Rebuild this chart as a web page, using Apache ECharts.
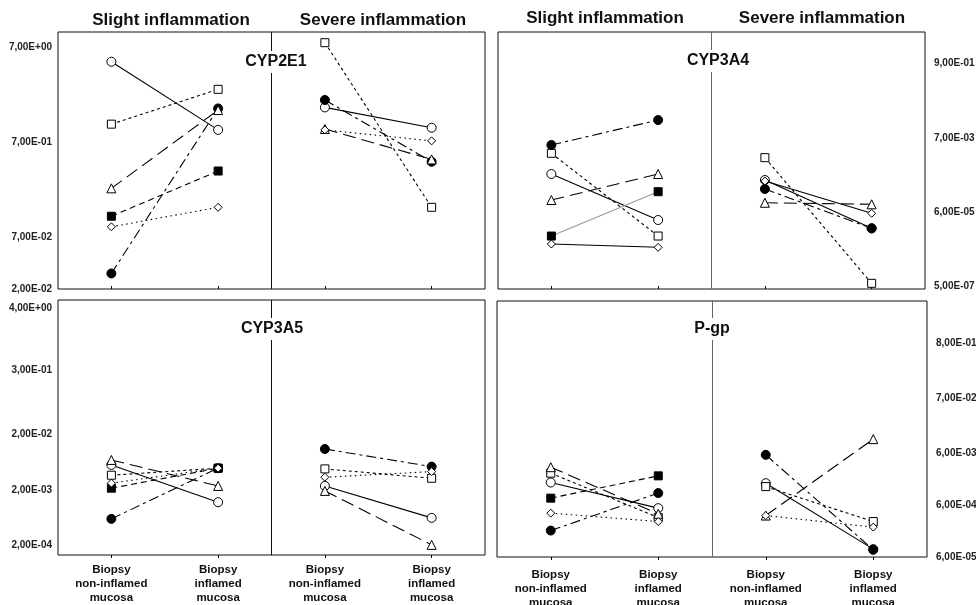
<!DOCTYPE html>
<html>
<head>
<meta charset="utf-8">
<script src="https://cdn.jsdelivr.net/npm/echarts@6/dist/echarts.min.js"></script>
<style>
html,body{margin:0;padding:0;background:#fff;}
#chart{width:976px;height:605px;}
</style>
</head>
<body>
<div id="chart"></div>
<script>
// ---------- categories ----------
const categories = ['Biopsy\nnon-inflamed\nmucosa', 'Biopsy\ninflamed\nmucosa', 'Biopsy\nnon-inflamed\nmucosa', 'Biopsy\ninflamed\nmucosa'];
const groupTitles = ['Slight inflammation', 'Severe inflammation'];
const panelNames = ['CYP2E1', 'CYP3A4', 'CYP3A5', 'P-gp'];

// ---------- tick values and labels ----------
const cyp2e1Ticks = [7, 0.7, 0.07, 0.02];
const cyp2e1TickLabels = ['7,00E+00', '7,00E-01', '7,00E-02', '2,00E-02'];
const cyp3a4Ticks = [0.9, 0.007, 6e-5, 5e-7];
const cyp3a4TickLabels = ['9,00E-01', '7,00E-03', '6,00E-05', '5,00E-07'];
const cyp3a5Ticks = [4, 0.3, 0.02, 0.002, 0.0002];
const cyp3a5TickLabels = ['4,00E+00', '3,00E-01', '2,00E-02', '2,00E-03', '2,00E-04'];
const pgpTicks = [0.8, 0.07, 0.006, 0.0006, 0.00006];
const pgpTickLabels = ['8,00E-01', '7,00E-02', '6,00E-03', '6,00E-04', '6,00E-05'];

// ---------- values: [slight non-inflamed, slight inflamed, severe non-inflamed, severe inflamed] ----------
// CYP2E1
const cyp2e1OpenCircle   = [4.9, 0.94, 1.62, 0.99];
const cyp2e1OpenSquare   = [1.08, 2.51, 7.77, 0.144];
const cyp2e1FilledCircle = [0.029, 1.58, 1.94, 0.434];
const cyp2e1OpenTriangle = [0.228, 1.52, 0.96, 0.46];
const cyp2e1FilledSquare = [0.116, 0.347, null, null];
const cyp2e1OpenDiamond  = [0.0898, 0.144, 0.94, 0.72];
// CYP3A4
const cyp3a4FilledCircle = [4.51e-3, 2.26e-2, 2.63e-4, 2.07e-5];
const cyp3a4OpenSquare   = [2.64e-3, 1.26e-5, 1.99e-3, 5.94e-7];
const cyp3a4OpenCircle   = [6.92e-4, 3.55e-5, 4.70e-4, 2.07e-5];
const cyp3a4OpenTriangle = [1.29e-4, 6.92e-4, 1.08e-4, 9.78e-5];
const cyp3a4FilledSquare = [1.26e-5, 2.21e-4, null, null];
const cyp3a4OpenDiamond  = [7.53e-6, 6.08e-6, 4.41e-4, 5.47e-5];
// CYP3A5
const cyp3a5OpenTriangle = [6.97e-3, 2.35e-3, 1.91e-3, 2.0e-4];
const cyp3a5OpenCircle   = [5.66e-3, 1.19e-3, 2.35e-3, 6.18e-4];
const cyp3a5OpenSquare   = [3.68e-3, 4.93e-3, 4.79e-3, 3.24e-3];
const cyp3a5FilledSquare = [2.14e-3, 4.93e-3, null, null];
const cyp3a5OpenDiamond  = [2.64e-3, 4.93e-3, 3.38e-3, 4.28e-3];
const cyp3a5FilledCircle = [5.93e-4, 4.93e-3, 1.10e-2, 5.27e-3];
// P-gp
const pgpOpenTriangle = [3.22e-3, 4.06e-4, 3.76e-4, 1.12e-2];
const pgpOpenSquare   = [2.47e-3, 3.44e-4, 1.36e-3, 2.88e-4];
const pgpOpenCircle   = [1.63e-3, 5.22e-4, 1.58e-3, 8.47e-5];
const pgpFilledSquare = [8.14e-4, 2.19e-3, null, null];
const pgpOpenDiamond  = [4.19e-4, 2.88e-4, 3.76e-4, 2.25e-4];
const pgpFilledCircle = [1.93e-4, 1.02e-3, 5.56e-3, 8.22e-5];

// ---------- styles ----------
const FONT = 'Liberation Sans, Arial, sans-serif';
const markerStyle = {
  openCircle:   {symbol: 'circle',   size: 9, fill: '#fff', dash: 'solid'},
  openSquare:   {symbol: 'rect',     size: 8, fill: '#fff', dash: [3, 3]},
  filledCircle: {symbol: 'circle',   size: 9, fill: '#000', dash: [10, 4, 3, 4]},
  openTriangle: {symbol: 'triangle', size: 9, fill: '#fff', dash: [13, 6]},
  filledSquare: {symbol: 'rect',     size: 8, fill: '#000', dash: [6, 4]},
  openDiamond:  {symbol: 'diamond',  size: 8, fill: '#fff', dash: [1.5, 3.5]}
};

const panels = [
  {name: 'CYP2E1', ticks: cyp2e1Ticks, labels: cyp2e1TickLabels, min: 0.0199, max: 10.07, side: 'left', divider: '#111',
   grid: {left: 58, top: 32, width: 427, height: 257}, bottom: false,
   series: {openCircle: cyp2e1OpenCircle, openSquare: cyp2e1OpenSquare, filledCircle: cyp2e1FilledCircle,
            openTriangle: cyp2e1OpenTriangle, filledSquare: cyp2e1FilledSquare, openDiamond: cyp2e1OpenDiamond},
   override: {}},
  {name: 'CYP3A4', ticks: cyp3a4Ticks, labels: cyp3a4TickLabels, min: 4.12e-7, max: 6.66, side: 'right', divider: '#666',
   grid: {left: 498, top: 32, width: 427, height: 257}, bottom: false,
   series: {openCircle: cyp3a4OpenCircle, openSquare: cyp3a4OpenSquare, filledCircle: cyp3a4FilledCircle,
            openTriangle: cyp3a4OpenTriangle, filledSquare: cyp3a4FilledSquare, openDiamond: cyp3a4OpenDiamond},
   override: {filledSquare: {dash: 'solid', color: '#999'}, openDiamond: {dash: 'solid'}}},
  {name: 'CYP3A5', ticks: cyp3a5Ticks, labels: cyp3a5TickLabels, min: 1.31e-4, max: 5.58, side: 'left', divider: '#111',
   grid: {left: 58, top: 300, width: 427, height: 255}, bottom: true, labelMargin: 8,
   series: {openCircle: cyp3a5OpenCircle, openSquare: cyp3a5OpenSquare, filledCircle: cyp3a5FilledCircle,
            openTriangle: cyp3a5OpenTriangle, filledSquare: cyp3a5FilledSquare, openDiamond: cyp3a5OpenDiamond},
   override: {}},
  {name: 'P-gp', ticks: pgpTicks, labels: pgpTickLabels, min: 5.97e-5, max: 5.15, side: 'right', divider: '#666',
   grid: {left: 497, top: 301, width: 430, height: 256}, bottom: true, labelMargin: 11,
   series: {openCircle: pgpOpenCircle, openSquare: pgpOpenSquare, filledCircle: pgpFilledCircle,
            openTriangle: pgpOpenTriangle, filledSquare: pgpFilledSquare, openDiamond: pgpOpenDiamond},
   override: {}}
];

const catPos = categories.map((c, i) => i + 0.5);

function nearestLabel(v, ticks, labels) {
  let best = 0, bd = Infinity;
  ticks.forEach((t, i) => {
    const d = Math.abs(Math.log10(v) - Math.log10(t));
    if (d < bd) { bd = d; best = i; }
  });
  return labels[best];
}

const grids = [], xAxes = [], yAxes = [], series = [];
panels.forEach((p, pi) => {
  grids.push(Object.assign({show: true, borderColor: '#111', borderWidth: 1, backgroundColor: 'transparent',
    containLabel: false, outerBoundsMode: 'none'}, p.grid));
  xAxes.push({
    type: 'value', gridIndex: pi, min: 0, max: 4,
    axisLine: {show: false}, splitLine: {show: false},
    axisTick: {show: true, customValues: catPos, length: 3, inside: !p.bottom, lineStyle: {color: '#000'}},
    axisLabel: {show: p.bottom, customValues: catPos, formatter: v => categories[Math.floor(v)], hideOverlap: false,
      fontFamily: FONT, fontSize: 11.5, fontWeight: 'bold', color: '#111', lineHeight: 14, margin: p.labelMargin || 8}
  });
  yAxes.push({
    type: 'log', gridIndex: pi, min: p.min, max: p.max, position: p.side,
    axisLine: {show: false}, axisTick: {show: false}, splitLine: {show: false},
    axisLabel: {customValues: p.ticks, formatter: v => nearestLabel(v, p.ticks, p.labels), hideOverlap: false,
      showMinLabel: true, showMaxLabel: true,
      fontFamily: FONT, fontSize: 10, fontWeight: 'bold', color: '#222', margin: p.side === 'left' ? 6 : 9}
  });
  let first = true;
  Object.keys(p.series).forEach(key => {
    const vals = p.series[key];
    const st = Object.assign({}, markerStyle[key], p.override[key] || {});
    [[0, 1], [2, 3]].forEach(pair => {
      const pts = pair.filter(i => vals[i] != null).map(i => [catPos[i], vals[i]]);
      if (!pts.length) return;
      const s = {
        type: 'line', xAxisIndex: pi, yAxisIndex: pi, data: pts,
        symbol: st.symbol, symbolSize: st.size, showSymbol: true,
        itemStyle: {color: st.fill, borderColor: '#000', borderWidth: 1},
        lineStyle: {color: st.color || '#000', width: 1.1, type: st.dash},
        emphasis: {disabled: true}, silent: true, z: 3
      };
      if (first) {
        s.markLine = {
          silent: true, symbol: ['none', 'none'], label: {show: false},
          lineStyle: {color: p.divider, type: 'solid', width: 1},
          data: [{xAxis: 2}], z: 1
        };
        first = false;
      }
      series.push(s);
    });
  });
});

function mkTitle(text, left, top, size, bg) {
  return {
    text: text, left: left, top: top, textAlign: 'center',
    backgroundColor: bg ? '#fff' : 'transparent', padding: bg ? [2, 4] : 0,
    textStyle: {fontFamily: FONT, fontWeight: 'bold', color: '#111', fontSize: size, lineHeight: size + 2}
  };
}
const titles = [
  mkTitle(groupTitles[0], 171, 11, 17, false),
  mkTitle(groupTitles[1], 383, 11, 17, false),
  mkTitle(groupTitles[0], 605, 9, 17, false),
  mkTitle(groupTitles[1], 822, 9, 17, false),
  mkTitle(panelNames[0], 272, 51, 16, true),
  mkTitle(panelNames[1], 714, 50, 16, true),
  mkTitle(panelNames[2], 268, 318, 16, true),
  mkTitle(panelNames[3], 708, 318, 16, true)
];

const chart = echarts.init(document.getElementById('chart'), null, {renderer: 'canvas'});
chart.setOption({
  animation: false,
  backgroundColor: '#fff',
  title: titles,
  grid: grids,
  xAxis: xAxes,
  yAxis: yAxes,
  series: series
});
</script>
</body>
</html>
